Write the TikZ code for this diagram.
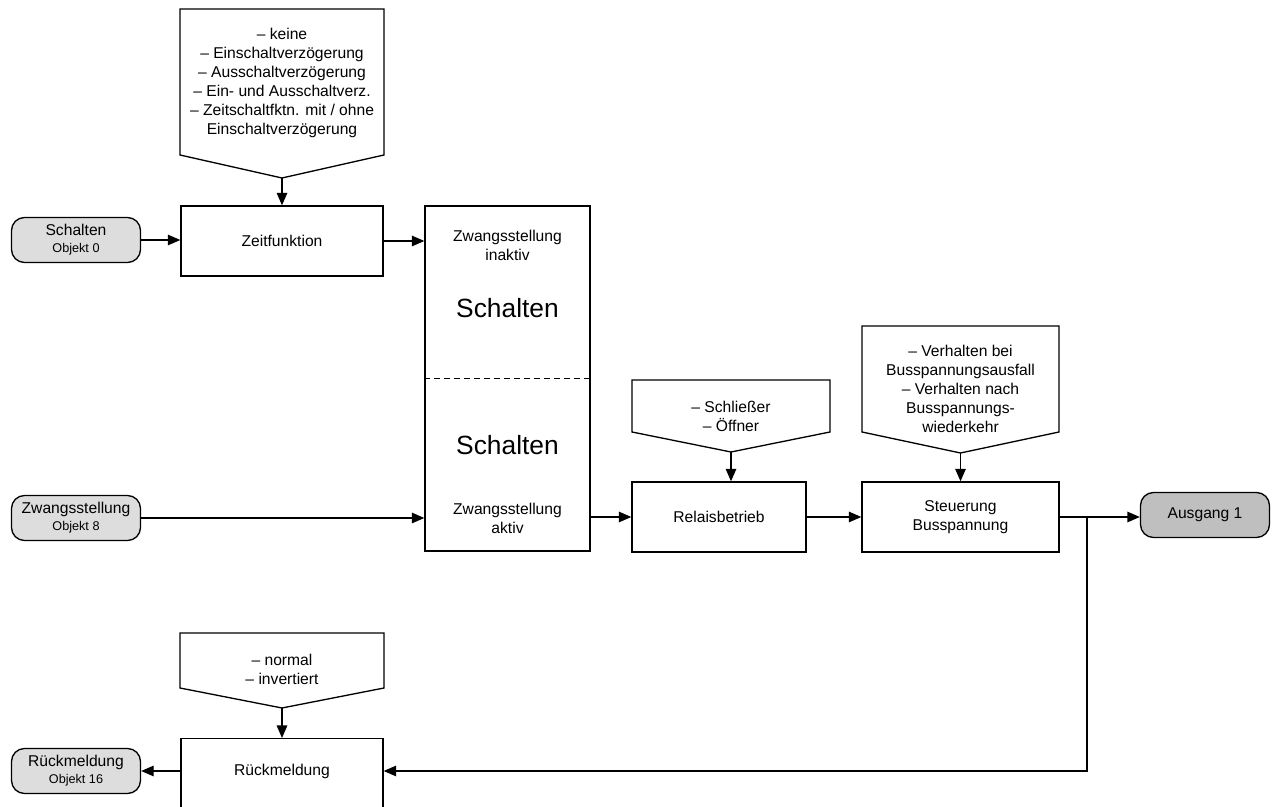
\documentclass[tikz,border=0pt]{standalone}
\usepackage{fontspec}
\setmainfont{Liberation Sans}
\usetikzlibrary{positioning,arrows.meta}

\definecolor{objgray}{HTML}{DDDDDD}
\definecolor{outgray}{HTML}{BFBFBF}

% pentagon pointing down: name, left, right, top, side, tip
\newcommand{\pentbox}[6]{%
  \draw[line] (#2,#4) -- (#3,#4) -- (#3,#5) -- ({(#2+#3)/2},#6) coordinate (#1)
    -- (#2,#5) -- cycle;}

\begin{document}
\begin{tikzpicture}[x=0.2mm, y=-0.2mm,
  font=\fontsize{8.9}{10.8}\selectfont,
  line/.style={line width=0.75pt},
  arr/.style={line, -{Triangle[length=2.5mm,width=2.1mm]}},
  box/.style={line, draw, inner sep=0pt, align=center},
  obj/.style={box, rounded corners=2.6mm, fill=objgray,
    minimum width=25.8mm, minimum height=9mm},
  txt/.style={align=center, inner sep=0pt},
  big/.style={font=\fontsize{15}{18}\selectfont}]
\useasboundingbox (0,0) rectangle (1274,807);

% input / output objects
\node[obj] (obj0) at (76,240) {Schalten\\[-1pt]{\fontsize{7.2}{9}\selectfont Objekt 0}};
\node[obj] (obj8) at (76,518) {Zwangsstellung\\[-1pt]{\fontsize{7.2}{9}\selectfont Objekt 8}};
\node[obj] (obj16) at (76,771) {Rückmeldung\\[-1pt]{\fontsize{7.2}{9}\selectfont Objekt 16}};
\node[obj, fill=outgray] (ausg) at (1205,515) {Ausgang 1};

% function blocks
\node[box, minimum width=40.4mm, minimum height=14mm] (zeit) at (282,241) {Zeitfunktion};
\node[box, minimum width=33mm, minimum height=69mm] (bigbox) at (507.5,378.5) {};
\node[box, minimum width=34.8mm, minimum height=14mm] (relais) at (719,517) {Relaisbetrieb};
\node[box, minimum width=39.4mm, minimum height=14mm] (steuer) at (960.5,517) {Steuerung\\Busspannung};
\node[box, minimum width=40.4mm, minimum height=15mm, anchor=north] (rbox) at (282,738) {};
\node[txt] (rtext) at (282,771) {Rückmeldung};

% inside the forced-position block
\draw[line, dash pattern=on 1.2mm off 0.8mm] (bigbox.west) -- (bigbox.east);
\node[txt] (inaktiv) at (507.5,245) {Zwangsstellung\\inaktiv};
\node[txt, big] (schalt1) at (507.5,308) {Schalten};
\node[txt, big] (schalt2) at (507.5,445) {Schalten};
\node[txt] (aktiv) at (507.5,518) {Zwangsstellung\\aktiv};

% parameter pentagons
\pentbox{p1}{180}{384}{9}{155}{178}
\node[txt] (p1text) at (282,83) {– keine\\– Einschaltverzögerung\\– Ausschaltverzögerung\\
  – Ein- und Ausschaltverz.\\– Zeitschaltfktn. mit / ohne\\Einschaltverzögerung};
\pentbox{p2}{632}{830}{380}{432}{452}
\node[txt] (p2text) at (731,416) {– Schließer\\– Öffner};
\pentbox{p3}{862}{1059}{326}{432}{453}
\node[txt] (p3text) at (960.5,389) {– Verhalten bei\\Busspannungsausfall\\– Verhalten nach\\
  Busspannungs-\\wiederkehr};
\pentbox{p4}{180}{384}{633}{688}{708}
\node[txt] (p4text) at (282,669) {– normal\\– invertiert};

% connectors
\draw[arr] (p1) -- (p1 |- zeit.north);
\draw[arr] (p2) -- (p2 |- relais.north);
\draw[arr] (p3) -- (p3 |- steuer.north);
\draw[arr] (p4) -- (p4 |- rbox.north);

\draw[arr] (obj0.east) -- (obj0.east -| zeit.west);
\draw[arr] (zeit.east) -- (zeit.east -| bigbox.west);
\draw[arr] (obj8.east) -- (obj8.east -| bigbox.west);
\draw[arr] (bigbox.east |- relais) -- (relais.west);
\draw[arr] (relais.east) -- (steuer.west);
\draw[arr] (steuer.east) -- (steuer.east -| ausg.west);

\coordinate (branch) at (1087,517);
\draw[arr] (branch) |- (rbox.east |- rtext);
\draw[arr] (rbox.west |- rtext) -- (obj16.east |- rtext);
\end{tikzpicture}
\end{document}
